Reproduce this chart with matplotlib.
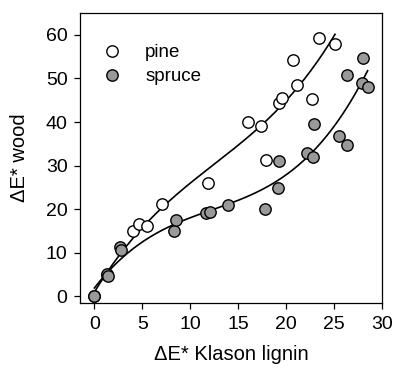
import numpy as np
import matplotlib
matplotlib.use('Agg')
import matplotlib.pyplot as plt

plt.rcParams['font.family'] = ['Liberation Sans', 'DejaVu Sans']

# pine (open circles)
pine_x = [0.0, 1.3, 4.0, 4.7, 5.5, 7.1, 11.9, 16.0, 17.4, 17.85, 19.3, 19.6,
          20.7, 21.1, 22.7, 23.4, 25.1]
pine_y = [0.0, 5.0, 15.0, 16.7, 16.2, 21.3, 26.1, 40.0, 39.0, 31.2, 44.4, 45.5,
          54.2, 48.6, 45.2, 59.2, 58.0]

# spruce (grey circles)
spruce_x = [0.0, 1.3, 1.45, 2.7, 2.8, 8.3, 8.5, 11.6, 12.06, 13.97, 17.8, 19.2,
            19.3, 22.2, 22.8, 22.9, 25.5, 26.3, 26.4, 27.9, 28.0, 28.5]
spruce_y = [0.0, 5.2, 4.6, 11.3, 10.7, 14.9, 17.5, 19.2, 19.4, 20.9, 20.1, 24.9,
            31.1, 33.0, 32.0, 39.5, 36.9, 34.7, 50.9, 49.0, 54.7, 48.1]

xticks = [0, 5, 10, 15, 20, 25, 30]
yticks = [0, 10, 20, 30, 40, 50, 60]

fig = plt.figure(figsize=(3.95, 3.74), dpi=100)
ax = fig.add_axes([0.2025, 0.1898, 0.7646, 0.7754])

# fitted curves (cubic regression)
for xs, ys in [(pine_x, pine_y), (spruce_x, spruce_y)]:
    c = np.polyfit(xs, ys, 3)
    xx = np.linspace(0, max(xs), 200)
    ax.plot(xx, np.polyval(c, xx), color='black', lw=1.2, zorder=2)

ax.plot(pine_x, pine_y, 'o', ms=8.2, mfc='white', mec='black', mew=1.0,
        label='pine', zorder=3)
ax.plot(spruce_x, spruce_y, 'o', ms=8.2, mfc='#999999', mec='black', mew=1.0,
        label='spruce', zorder=4)

ax.set_xlim(-1.5, 30)
ax.set_ylim(-1.5, 65)
ax.set_xticks(xticks)
ax.set_yticks(yticks)
ax.tick_params(labelsize=14, length=4, width=0.9, direction='out', pad=5)
for s in ax.spines.values():
    s.set_linewidth(0.9)

ax.set_xlabel('ΔE* Klason lignin', fontsize=14.5, labelpad=9)
ax.set_ylabel('ΔE* wood', fontsize=14.5, labelpad=12)

ax.legend(loc='upper left', bbox_to_anchor=(0.074, 0.893), frameon=False,
          fontsize=13.5, handlelength=1.0, handletextpad=1.28, borderpad=0,
          borderaxespad=0, labelspacing=0.38, numpoints=1)

fig.savefig('out.png', dpi=100)
